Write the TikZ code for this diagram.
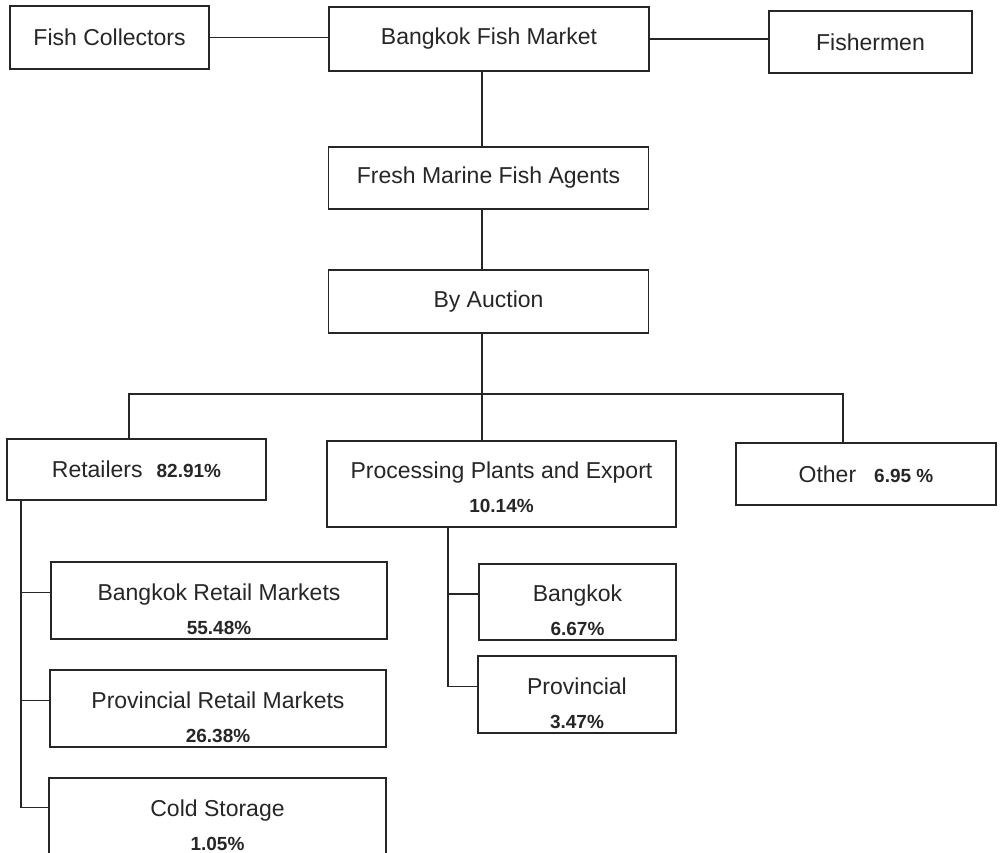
\documentclass[tikz,border=0pt]{standalone}
\usepackage{fontspec}
\setmainfont{Liberation Sans}
\usepackage{tikz}
\tikzset{x=1pt,y=-1pt,
  box/.style={draw=black!85,line width=1.1pt,inner sep=0pt,align=center,
    text=black!85,font=\fontsize{23}{34}\selectfont},
  twoline/.style={text height=68pt},
  link/.style={draw=black!85,line width=1.1pt}}
\newcommand{\pct}[1]{{\fontsize{19}{34}\selectfont\bfseries #1}}

\begin{document}
\begin{tikzpicture}
    \useasboundingbox (0,0) rectangle (1001,853);
    % top row
    \node[box,minimum width=199pt,minimum height=63pt] (coll) at (109.5,37.5) {Fish Collectors};
    \node[box,minimum width=320pt,minimum height=64pt] (bfm) at (489,39) {Bangkok Fish Market};
    \node[box,minimum width=203pt,minimum height=62pt] (fish) at (870.5,42) {Fishermen};
    \node[box,minimum width=320pt,minimum height=62pt] (agents) at (488.5,178) {Fresh Marine Fish Agents};
    \node[box,minimum width=320pt,minimum height=63pt] (auction) at (488.5,301.5) {By Auction};
    % three outlets
    \node[box,minimum width=259pt,minimum height=61pt] (retail) at (136.5,469.5) {Retailers\hspace{14pt}\pct{82.91\%}};
    \node[box,text height=57pt,minimum width=349pt,minimum height=86pt] (proc) at (501.5,484) {Processing Plants and Export\\\pct{10.14\%}};
    \node[box,minimum width=260pt,minimum height=62pt] (other) at (866,474) {Other\hspace{18pt}\pct{6.95 \%}};
    % retailers
    \node[box,twoline,minimum width=336pt,minimum height=77pt] (bkkret) at (219,600.5) {Bangkok Retail Markets\\\pct{55.48\%}};
    \node[box,twoline,minimum width=336pt,minimum height=77pt] (provret) at (218,708.5) {Provincial Retail Markets\\\pct{26.38\%}};
    \node[box,twoline,minimum width=337pt,minimum height=77pt] (cold) at (217.5,816.5) {Cold Storage\\\pct{1.05\%}};
    % processing
    \node[box,twoline,minimum width=197pt,minimum height=76pt] (bkk) at (577.5,602) {Bangkok\\\pct{6.67\%}};
    \node[box,twoline,minimum width=198pt,minimum height=77pt] (prov) at (577,694.5) {Provincial\\\pct{3.47\%}};

    \coordinate (mx) at (482,0);
    \coordinate (lft) at (129,394);
    \coordinate (rgt) at (843,394);
    \coordinate (rt) at (21,0);
    \coordinate (pt) at (448,0);
    \coordinate (bkkretin) at ([yshift=8pt]bkkret.west);
    \coordinate (provretin) at ([yshift=8pt]provret.west);
    \coordinate (coldin) at ([yshift=9pt]cold.west);
    \coordinate (bkkin) at ([yshift=8pt]bkk.west);
    \coordinate (provin) at ([yshift=8pt]prov.west);

    \draw[link] (coll.east) -- (coll.east -| bfm.west);
    \draw[link] (bfm.east) -- (bfm.east -| fish.west);
    \draw[link] (bfm.south -| mx) -- (agents.north -| mx);
    \draw[link] (agents.south -| mx) -- (auction.north -| mx);
    \draw[link] (auction.south -| mx) -- (proc.north -| mx);
    \draw[link] (retail.north -| lft) -- (lft) -- (rgt) -- (other.north -| rgt);
    % retail branches
    \draw[link] (retail.south -| rt) |- (coldin);
    \draw[link] (rt |- bkkretin) -- (bkkretin);
    \draw[link] (rt |- provretin) -- (provretin);
    % processing branches
    \draw[link] (proc.south -| pt) |- (provin);
    \draw[link] (pt |- bkkin) -- (bkkin);
\end{tikzpicture}
\end{document}
